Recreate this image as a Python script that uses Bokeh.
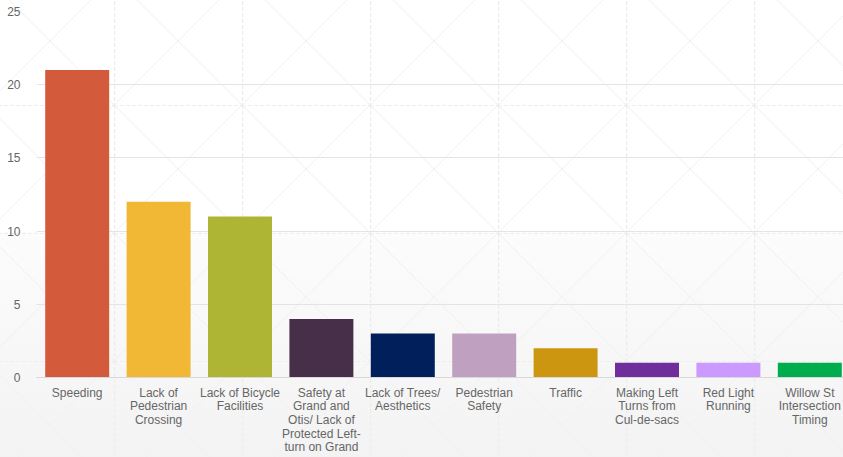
from bokeh.plotting import figure
from bokeh.models import Range1d, FixedTicker, SingleIntervalTicker, ColumnDataSource
from bokeh.embed import file_html
from bokeh.resources import INLINE

categories = ["Speeding", "Lack of\nPedestrian\nCrossing", "Lack of Bicycle\nFacilities",
              "Safety at\nGrand and\nOtis/ Lack of\nProtected Left-\nturn on Grand",
              "Lack of Trees/\nAesthetics", "Pedestrian\nSafety", "Traffic",
              "Making Left\nTurns from\nCul-de-sacs", "Red Light\nRunning",
              "Willow St\nIntersection\nTiming"]
counts = [21, 12, 11, 4, 3, 3, 2, 1, 1, 1]
colors = ["#d35a3b", "#f0b834", "#aeb535", "#472f49", "#011f5b",
          "#c0a0c0", "#cc9611", "#6f2e9b", "#cc99ff", "#00ad4e"]
y_ticks_interval = 5
y_max = 25

xpos = [i + 0.5 for i in range(len(categories))]
src = ColumnDataSource(dict(x=xpos, val=counts, col=colors))

p = figure(x_range=Range1d(0, 9.914), y_range=Range1d(0, y_max),
           width=843, height=457, output_backend="svg", toolbar_location=None,
           min_border_left=36, min_border_right=0, min_border_top=11, min_border_bottom=80)

tile = ("data:image/svg+xml;utf8,<svg xmlns='http://www.w3.org/2000/svg' width='128' height='128'>"
        "<line x1='0' y1='0' x2='128' y2='128' stroke='rgb(240,240,240)' stroke-width='1'/>"
        "<line x1='128' y1='0' x2='0' y2='128' stroke='rgb(240,240,240)' stroke-width='1'/>"
        "<line x1='0.5' y1='0' x2='0.5' y2='128' stroke='rgb(236,236,236)' stroke-width='1.5' stroke-dasharray='4 2'/>"
        "<line x1='0' y1='0.5' x2='128' y2='0.5' stroke='rgb(238,238,238)' stroke-width='1' stroke-dasharray='4 2'/>"
        "</svg>")
p.styles = {
    "background-image": f'url("{tile}"), linear-gradient(to bottom, #ffffff 0px, #ffffff 231px, #fcfcfc 233px, #f3f3f3 457px)',
    "background-position": "114px 105px, 0 0",
    "background-repeat": "repeat, no-repeat",
}
p.background_fill_alpha = 0
p.border_fill_alpha = 0
p.outline_line_color = None

p.vbar(x="x", top="val", width=0.786, color="col", source=src, line_color=None)

p.xgrid.grid_line_color = None
p.ygrid.grid_line_color = "#e4e4e4"
p.ygrid.grid_line_width = 1
p.yaxis.ticker = SingleIntervalTicker(interval=y_ticks_interval)
p.yaxis.axis_line_color = None
p.yaxis.major_tick_line_color = None
p.yaxis.minor_tick_line_color = None
p.yaxis.major_label_standoff = 10
p.xaxis.ticker = FixedTicker(ticks=xpos)
p.xaxis.major_label_overrides = {x: c for x, c in zip(xpos, categories)}
p.xaxis.axis_line_color = "#d8d8d8"
p.xaxis.major_tick_line_color = None
p.xaxis.minor_tick_line_color = None
p.xaxis.major_tick_out = 0
p.xaxis.major_tick_in = 0
p.xaxis.major_label_standoff = 8
p.xaxis.major_label_text_line_height = 0.98
for ax in (p.xaxis, p.yaxis):
    ax.major_label_text_font = "Liberation Sans"
    ax.major_label_text_font_size = "12px"
    ax.major_label_text_color = "#666666"

open("out.html", "w").write(file_html(p, INLINE))
